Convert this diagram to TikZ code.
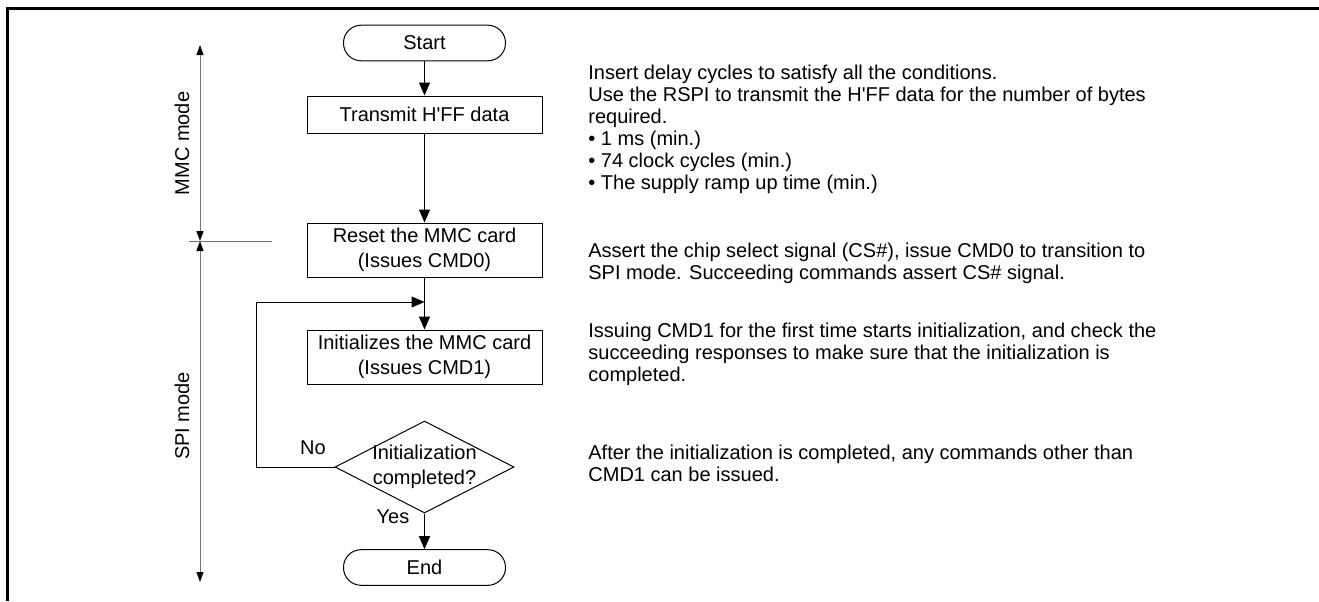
\documentclass[tikz,border=0pt]{standalone}
\usepackage{fontspec}
\setmainfont{Liberation Sans}
\usetikzlibrary{arrows.meta,shapes.geometric}
\tikzset{
	box/.style={draw, line width=0.5pt, align=center, inner sep=0pt, minimum width=117.5pt, font=\fontsize{10}{12.5}\selectfont},
	term/.style={draw, line width=0.5pt, rounded corners=8.8pt, minimum width=81pt, minimum height=17.8pt, inner sep=0pt, font=\fontsize{10}{12}\selectfont},
	dec/.style={draw, diamond, line width=0.5pt, inner sep=0pt, minimum width=89.5pt, minimum height=46pt},
	flow/.style={line width=0.5pt, -{Triangle[length=6.5pt,width=5.5pt]}},
	modeaxis/.style={line width=0.5pt, draw=black!55, {Triangle[length=5pt,width=3.5pt,color=black]}-{Triangle[length=5pt,width=3.5pt,color=black]}},
	note/.style={anchor=west, align=left, inner sep=0pt, font=\fontsize{10}{11}\selectfont},
	lbl/.style={inner sep=0pt, font=\fontsize{10}{12}\selectfont}
}
\begin{document}
\begin{tikzpicture}[x=0.5pt, y=-0.5pt]
		\useasboundingbox (0,0) rectangle (1319,601);
		\draw[line width=1.5pt] (7,601) to (7,8) to (1319,8);
		% flow
		\node[term] (start) at (424.5,43) {Start};
		\node[box, minimum height=18.5pt] (trans) at (424.5,114.5) {Transmit H\textquotesingle FF data};
		\node[box, minimum height=27pt] (reset) at (424.5,250) {Reset the MMC card\\(Issues CMD0)};
		\node[box, minimum height=27pt] (init) at (424.5,357) {Initializes the MMC card\\(Issues CMD1)};
		\node[dec] (chk) at (424.5,467) {};
		\node[lbl, align=center, font=\fontsize{10}{12.5}\selectfont] (chktxt) at (chk.center) {Initialization\\completed?};
		\node[term] (end) at (424.5,567.5) {End};
		\coordinate (join) at (424.5,302);
		\coordinate (back) at (256,467);
		\draw[flow] (start) to (trans);
		\draw[flow] (trans) to (reset);
		\draw[flow] (reset) to (init);
		\draw[flow] (chk.west) to (back) to (back |- join) to (join);
		\draw[flow] (chk) to (end);
		\node[lbl] (no) at (313,448) {No};
		\node[lbl] (yes) at (393,517) {Yes};
		% modes
		\coordinate (mtop) at (200,45);
		\coordinate (msplit) at (200,241);
		\coordinate (mbot) at (200,582);
		\coordinate (tickl) at (189,241);
		\coordinate (tickr) at (272,241);
		\draw[modeaxis] (mtop) to (msplit);
		\draw[modeaxis] (msplit) to (mbot);
		\draw[line width=0.5pt, draw=black!55] (tickl) to (tickr);
		\node[lbl, rotate=90] (mmc) at (182,143.5) {MMC mode};
		\node[lbl, rotate=90] (spi) at (182,416) {SPI mode};
		% notes
		\node[note] (n1) at (588,129) {Insert delay cycles to satisfy all the conditions.\\Use the RSPI to transmit the H\textquotesingle FF data for the number of bytes\\required.\\\textbullet{} 1 ms (min.)\\\textbullet{} 74 clock cycles (min.)\\\textbullet{} The supply ramp up time (min.)};
		\node[note] (n2) at (588,263) {Assert the chip select signal (CS\#), issue CMD0 to transition to\\SPI mode. Succeeding commands assert CS\# signal.};
		\node[note] (n3) at (588,354) {Issuing CMD1 for the first time starts initialization, and check the\\succeeding responses to make sure that the initialization is\\completed.};
		\node[note] (n4) at (588,463) {After the initialization is completed, any commands other than\\CMD1 can be issued.};
	\end{tikzpicture}
\end{document}
